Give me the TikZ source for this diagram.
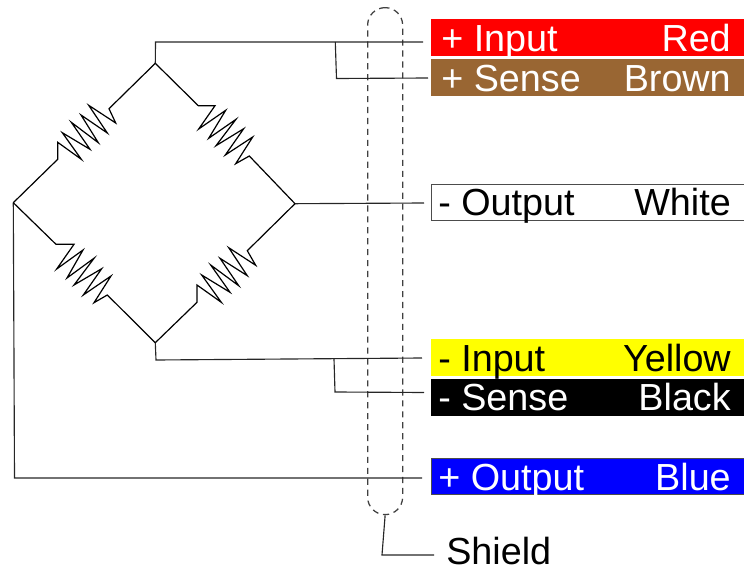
\documentclass[tikz,border=0pt]{standalone}
\usepackage{fontspec}
\setmainfont{Liberation Sans}
\definecolor{brownwire}{HTML}{996633}
\definecolor{redwire}{HTML}{FF0000}
\definecolor{yellowwire}{HTML}{FFFF00}
\definecolor{bluewire}{HTML}{0000FF}
\tikzset{
	wire/.style={draw=black!85,line width=0.85pt,line join=miter},
	arm/.style={draw=black,line width=0.9pt,line join=miter},
	bar/.style={anchor=north west,inner sep=0pt,minimum width=234.75pt,minimum height=27.75pt},
	outlined/.style={draw=black!70,line width=0.75pt,minimum width=234.4pt,minimum height=27.2pt},
	lefttext/.style={anchor=base west,inner sep=0pt,font=\fontsize{28.3}{28.3}\selectfont},
	righttext/.style={anchor=base east,inner sep=0pt,font=\fontsize{28.3}{28.3}\selectfont},
	shieldline/.style={draw=black!75,line width=0.95pt,dash pattern=on 4.6pt off 3.6pt}
}
\begin{document}
\begin{tikzpicture}[x=0.75pt,y=-0.75pt]
	\useasboundingbox (0,0) rectangle (744,571);
	% bridge corners
	\coordinate (top) at (155.3,63.3);
	\coordinate (right) at (295,203.7);
	\coordinate (bottom) at (155.3,342.7);
	\coordinate (left) at (13.3,202.7);
	% colour bars
	\node[bar,fill=redwire] (inputbar) at (431,19) {};
	\node[bar,fill=brownwire] (sensebar) at (431,59) {};
	\node[bar,outlined,fill=white] (whitebar) at (431,184) {};
	\node[bar,fill=yellowwire] (yellowbar) at (431,339) {};
	\node[bar,fill=black] (blackbar) at (431,379) {};
	\node[bar,outlined,fill=bluewire] (bluebar) at (431,458) {};
	% bar texts
	\node[lefttext,white] at (441,51.7) {+ Input};
	\node[righttext,white] at (731,51.7) {Red};
	\node[lefttext,white] at (441,91.7) {+ Sense};
	\node[righttext,white] at (731,91.7) {Brown};
	\node[lefttext] at (438,215) {- Output};
	\node[righttext] at (731,215) {White};
	\node[lefttext] at (438,371.7) {- Input};
	\node[righttext] at (731,371.7) {Yellow};
	\node[lefttext,white] at (438,410) {- Sense};
	\node[righttext,white] at (731,410) {Black};
	\node[lefttext,white] at (438,490) {+ Output};
	\node[righttext,white] at (731,490) {Blue};
	\node[lefttext] (shieldlabel) at (446,564) {Shield};
	% wire ends
	\coordinate (inputend) at (423,42);
	\coordinate (senseend) at (428,78);
	\coordinate (outputend) at (424,203);
	\coordinate (yellowend) at (422,358);
	\coordinate (blackend) at (424,392.5);
	\coordinate (blueend) at (422,478);
	\coordinate (shieldend) at (434,555);
	% shield
	\node[shieldline,anchor=north west,minimum width=26.25pt,minimum height=380.25pt,rounded corners=13.1pt,inner sep=0pt] (shield) at (367,7) {};
	\draw[wire] (shield.south) -- (382,555) -- (shieldend);
	% wires
	\draw[wire] (top) -- (155.5,42) -- (inputend);
	\draw[wire] (335.3,42) -- (336.5,78.5) -- (senseend);
	\draw[wire] (right) -- (outputend);
	\draw[wire] (bottom) -- (156,360) -- (yellowend);
	\draw[wire] (334,359) -- (335,392) -- (blackend);
	\draw[wire] (left) -- (14.5,478) -- (blueend);
	% resistors
	\draw[arm] (top) -- (109,108.7) -- (115.7,123) -- (88.7,105.3) -- (107.3,133) -- (81,115) -- (98.3,142.7) -- (71.3,122.3) -- (90,149.3) -- (62.3,132.7) -- (81.3,159.3) -- (57.7,142.3) -- (57.7,159.3) -- (left);
	\draw[arm] (top) -- (198.3,105.7) -- (215,105.7) -- (198.7,129) -- (225.7,110.3) -- (208.7,138.3) -- (236,119.3) -- (216,145.7) -- (243.7,128.7) -- (225.3,155) -- (252.7,137) -- (235.7,163.7) -- (249.3,156) -- (right);
	\draw[arm] (left) -- (56,244.3) -- (74,244.3) -- (56.7,269) -- (83,250) -- (67,278) -- (94.3,258) -- (74,285) -- (101.7,268.7) -- (83.3,295) -- (111,276) -- (94,302.7) -- (107.3,295) -- (bottom);
	\draw[arm] (right) -- (247.3,250.7) -- (255.7,265.3) -- (228.7,247.7) -- (247.3,275.7) -- (220,258.3) -- (238.7,285.7) -- (210.7,265) -- (230,292.3) -- (201.7,275) -- (221.3,302.3) -- (197,285) -- (197,302.3) -- (bottom);
\end{tikzpicture}
\end{document}
